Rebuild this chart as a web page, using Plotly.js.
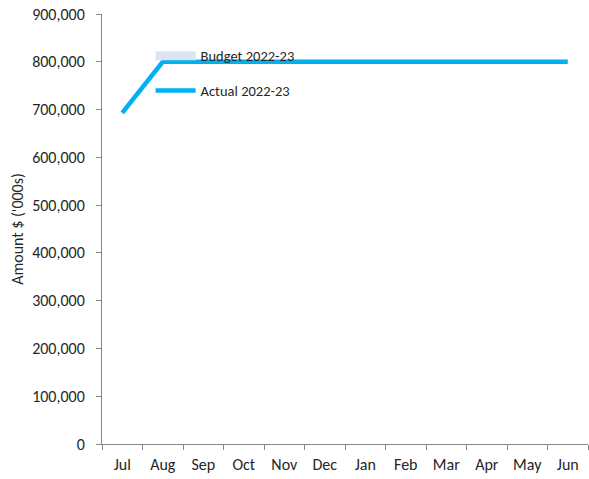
<!DOCTYPE html>
<html><head><meta charset="utf-8">
<script src="https://cdn.plot.ly/plotly-3.0.1.min.js"></script>
<style>body{margin:0;background:#fff}#c{width:589px;height:479px}</style>
</head><body><div id="c"></div>
<script>
const months = ["Jul","Aug","Sep","Oct","Nov","Dec","Jan","Feb","Mar","Apr","May","Jun"];
const budget = [null,null,null,null,null,null,null,null,null,null,null,null];
const actual = [693000,800000,800000,800000,800000,800000,800000,800000,800000,800000,800000,800000];
const yTicks = [0,100000,200000,300000,400000,500000,600000,700000,800000,900000];
const yTickText = ["0","100,000","200,000","300,000","400,000","500,000","600,000","700,000","800,000","900,000"];
const font = "Carlito, 'Liberation Sans Narrow', 'Open Sans', sans-serif";
Plotly.newPlot("c", [
  {x: months, y: budget, name: "Budget 2022-23", type: "scatter", mode: "lines",
   line: {color: "#dbe5f1", width: 9}, legendgroup: "b"},
  {x: months, y: actual, name: "Actual 2022-23", type: "scatter", mode: "lines",
   line: {color: "#00b0f0", width: 4.5}, legendgroup: "a"}
], {
  width: 589, height: 479,
  margin: {l: 102, r: 1, t: 14, b: 35},
  paper_bgcolor: "#fff", plot_bgcolor: "#fff",
  font: {family: font, size: 16, color: "#262626"},
  showlegend: true,
  legend: {x: 0.1, y: 0.94, xanchor: "left", yanchor: "top", bgcolor: "rgba(0,0,0,0)",
           tracegroupgap: 13, font: {size: 14.5}, itemwidth: 40},
  xaxis: {type: "category", range: [-0.5, 11.5], tickson: "boundaries", ticks: "outside", ticklen: 5,
          tickcolor: "#868686", showline: true, linecolor: "#868686", linewidth: 1,
          ticklabelstandoff: 6,
          showgrid: false, zeroline: false, fixedrange: true},
  yaxis: {range: [0, 900000], tickvals: yTicks, ticktext: yTickText, ticks: "outside",
          ticklen: 5, tickcolor: "#868686", showline: true, linecolor: "#868686",
          showgrid: false, zeroline: false, ticklabelstandoff: 8,
          title: {text: "Amount $ ('000s)", standoff: 4, font: {size: 16}}}
}, {displayModeBar: false, staticPlot: true});
</script></body></html>
